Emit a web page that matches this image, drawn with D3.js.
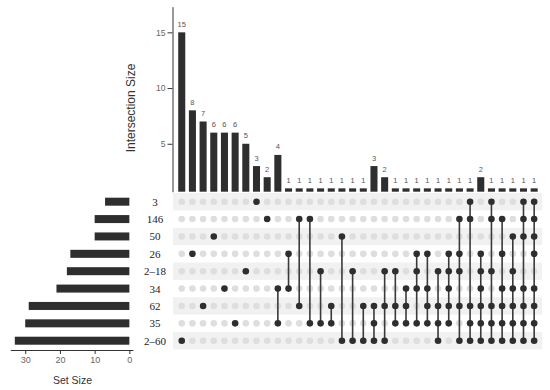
<!DOCTYPE html>
<html>
<head>
<meta charset="utf-8">
<script src="https://cdn.jsdelivr.net/npm/d3@7"></script>
<style>
  body { margin: 0; background: #fff; }
  svg { display: block; font-family: "Liberation Sans", Arial, sans-serif; }
</style>
</head>
<body>
<svg id="chart" width="550" height="390"></svg>
<script>
// sets, top to bottom in the matrix
const sets = ["3", "146", "50", "26", "2–18", "34", "62", "35", "2–60"];
const setSizes = [7, 10, 10, 17, 18, 21, 29, 30, 33];

// intersections, left to right
const interSizes = [15, 8, 7, 6, 6, 6, 5, 3, 2, 4, 1, 1, 1, 1, 1, 1, 1, 1, 3, 2, 1, 1, 1, 1, 1, 1, 1, 1, 2, 1, 1, 1, 1, 1];
const interSets = [
  ["2–60"], ["26"], ["62"], ["50"], ["34"], ["35"], ["2–18"], ["3"], ["146"],
  ["34", "35"], ["26", "34"], ["146", "62"], ["146", "35"], ["2–18", "35"],
  ["62", "35"], ["50", "2–60"], ["2–18", "2–60"], ["62", "2–60"],
  ["62", "35", "2–60"], ["2–18", "62", "2–60"], ["2–18", "62", "35"], ["34", "62", "35"],
  ["26", "2–18", "34", "35"], ["26", "34", "62", "35"], ["2–18", "62", "35", "2–60"],
  ["26", "2–18", "34", "62", "35"], ["146", "26", "2–18", "62", "2–60"],
  ["3", "146", "62", "35", "2–60"], ["26", "2–18", "34", "62", "35", "2–60"],
  ["3", "146", "2–18", "62", "35", "2–60"], ["146", "26", "34", "62", "35", "2–60"],
  ["50", "2–18", "34", "62", "35", "2–60"], ["3", "146", "50", "34", "62", "35", "2–60"],
  ["3", "146", "50", "26", "34", "62", "35", "2–60"]
];

const intersections = interSizes.map((v, i) => ({ id: i, size: v, sets: interSets[i] }));

const svg = d3.select("#chart");
const dark = "#2e2e2e";

// scales
const x = d3.scaleBand()
  .domain(intersections.map(d => d.id))
  .range([176.4, 539.5]);

const y = d3.scaleLinear()
  .domain([0.7, 17.3])
  .range([191.7, 6.7]);

const row = d3.scaleBand()
  .domain(sets)
  .range([193, 349.4]);

const xs = d3.scaleLinear()
  .domain([-1.05, 34.3])
  .range([133, 10.3]);

const cx = d => x(d) + x.bandwidth() / 2;
const cy = s => row(s) + row.bandwidth() / 2;

// row stripes
svg.append("g").selectAll("rect")
  .data(sets.filter((s, i) => i % 2 === 0))
  .enter().append("rect")
  .attr("x", 173)
  .attr("y", d => row(d))
  .attr("width", 369)
  .attr("height", row.bandwidth())
  .attr("fill", "#f1f1f1");

// intersection bars
const barW = x.bandwidth() * 0.66;
svg.append("g").selectAll("rect")
  .data(intersections)
  .enter().append("rect")
  .attr("x", d => cx(d.id) - barW / 2)
  .attr("y", d => y(d.size))
  .attr("width", barW)
  .attr("height", d => y.range()[0] - y(d.size))
  .attr("fill", dark);

svg.append("g").selectAll("text")
  .data(intersections)
  .enter().append("text")
  .attr("x", d => cx(d.id))
  .attr("y", d => y(d.size) - 5.5)
  .attr("text-anchor", "middle")
  .style("font-size", "7.5px")
  .attr("fill", "#555")
  .text(d => d.size);

// intersection axis
const yAxis = svg.append("g")
  .attr("transform", "translate(172.5,0)")
  .call(d3.axisLeft(y).tickValues([5, 10, 15]).tickSize(5).tickSizeOuter(0));
yAxis.select(".domain").attr("stroke", "#333");
yAxis.selectAll(".tick line").attr("stroke", "#333");
yAxis.selectAll(".tick text").attr("fill", "#666").style("font-size", "8.5px").attr("x", -7);

svg.append("text")
  .attr("transform", "translate(135,108) rotate(-90)")
  .attr("text-anchor", "middle")
  .style("font-size", "12px")
  .attr("fill", "#333")
  .text("Intersection Size");

// matrix dots
const cells = [];
intersections.forEach(d => sets.forEach(s => cells.push({ id: d.id, set: s, on: d.sets.includes(s) })));

svg.append("g").selectAll("circle")
  .data(cells.filter(c => !c.on))
  .enter().append("circle")
  .attr("cx", c => cx(c.id))
  .attr("cy", c => cy(c.set))
  .attr("r", 3.3)
  .attr("fill", "#dedede");

svg.append("g").selectAll("line")
  .data(intersections.filter(d => d.sets.length > 1))
  .enter().append("line")
  .attr("x1", d => cx(d.id))
  .attr("x2", d => cx(d.id))
  .attr("y1", d => d3.min(d.sets, s => cy(s)))
  .attr("y2", d => d3.max(d.sets, s => cy(s)))
  .attr("stroke", "#3a3a3a")
  .attr("stroke-width", 1.6);

svg.append("g").selectAll("circle")
  .data(cells.filter(c => c.on))
  .enter().append("circle")
  .attr("cx", c => cx(c.id))
  .attr("cy", c => cy(c.set))
  .attr("r", 3.3)
  .attr("fill", dark);

// set size bars
const setData = sets.map((s, i) => ({ set: s, size: setSizes[i] }));
svg.append("g").selectAll("rect")
  .data(setData)
  .enter().append("rect")
  .attr("x", d => xs(d.size))
  .attr("y", d => cy(d.set) - 4)
  .attr("width", d => xs(0) - xs(d.size))
  .attr("height", 8)
  .attr("fill", dark);

svg.append("g").selectAll("text")
  .data(setData)
  .enter().append("text")
  .attr("x", 155)
  .attr("y", d => cy(d.set) + 4)
  .attr("text-anchor", "middle")
  .style("font-family", "'Liberation Serif', 'Times New Roman', serif")
  .style("font-size", "11px")
  .attr("fill", "#222")
  .text(d => d.set);

const xAxis = svg.append("g")
  .attr("transform", "translate(0,350)")
  .call(d3.axisBottom(xs).tickValues([0, 10, 20, 30]).tickSize(4).tickSizeOuter(0));
xAxis.select(".domain").attr("stroke", "#333");
xAxis.selectAll(".tick line").attr("stroke", "#333");
xAxis.selectAll(".tick text").attr("fill", "#666").style("font-size", "9px").attr("y", 7);

svg.append("text")
  .attr("x", 72.5)
  .attr("y", 384)
  .attr("text-anchor", "middle")
  .style("font-size", "10.5px")
  .attr("fill", "#333")
  .text("Set Size");
</script>
</body>
</html>
